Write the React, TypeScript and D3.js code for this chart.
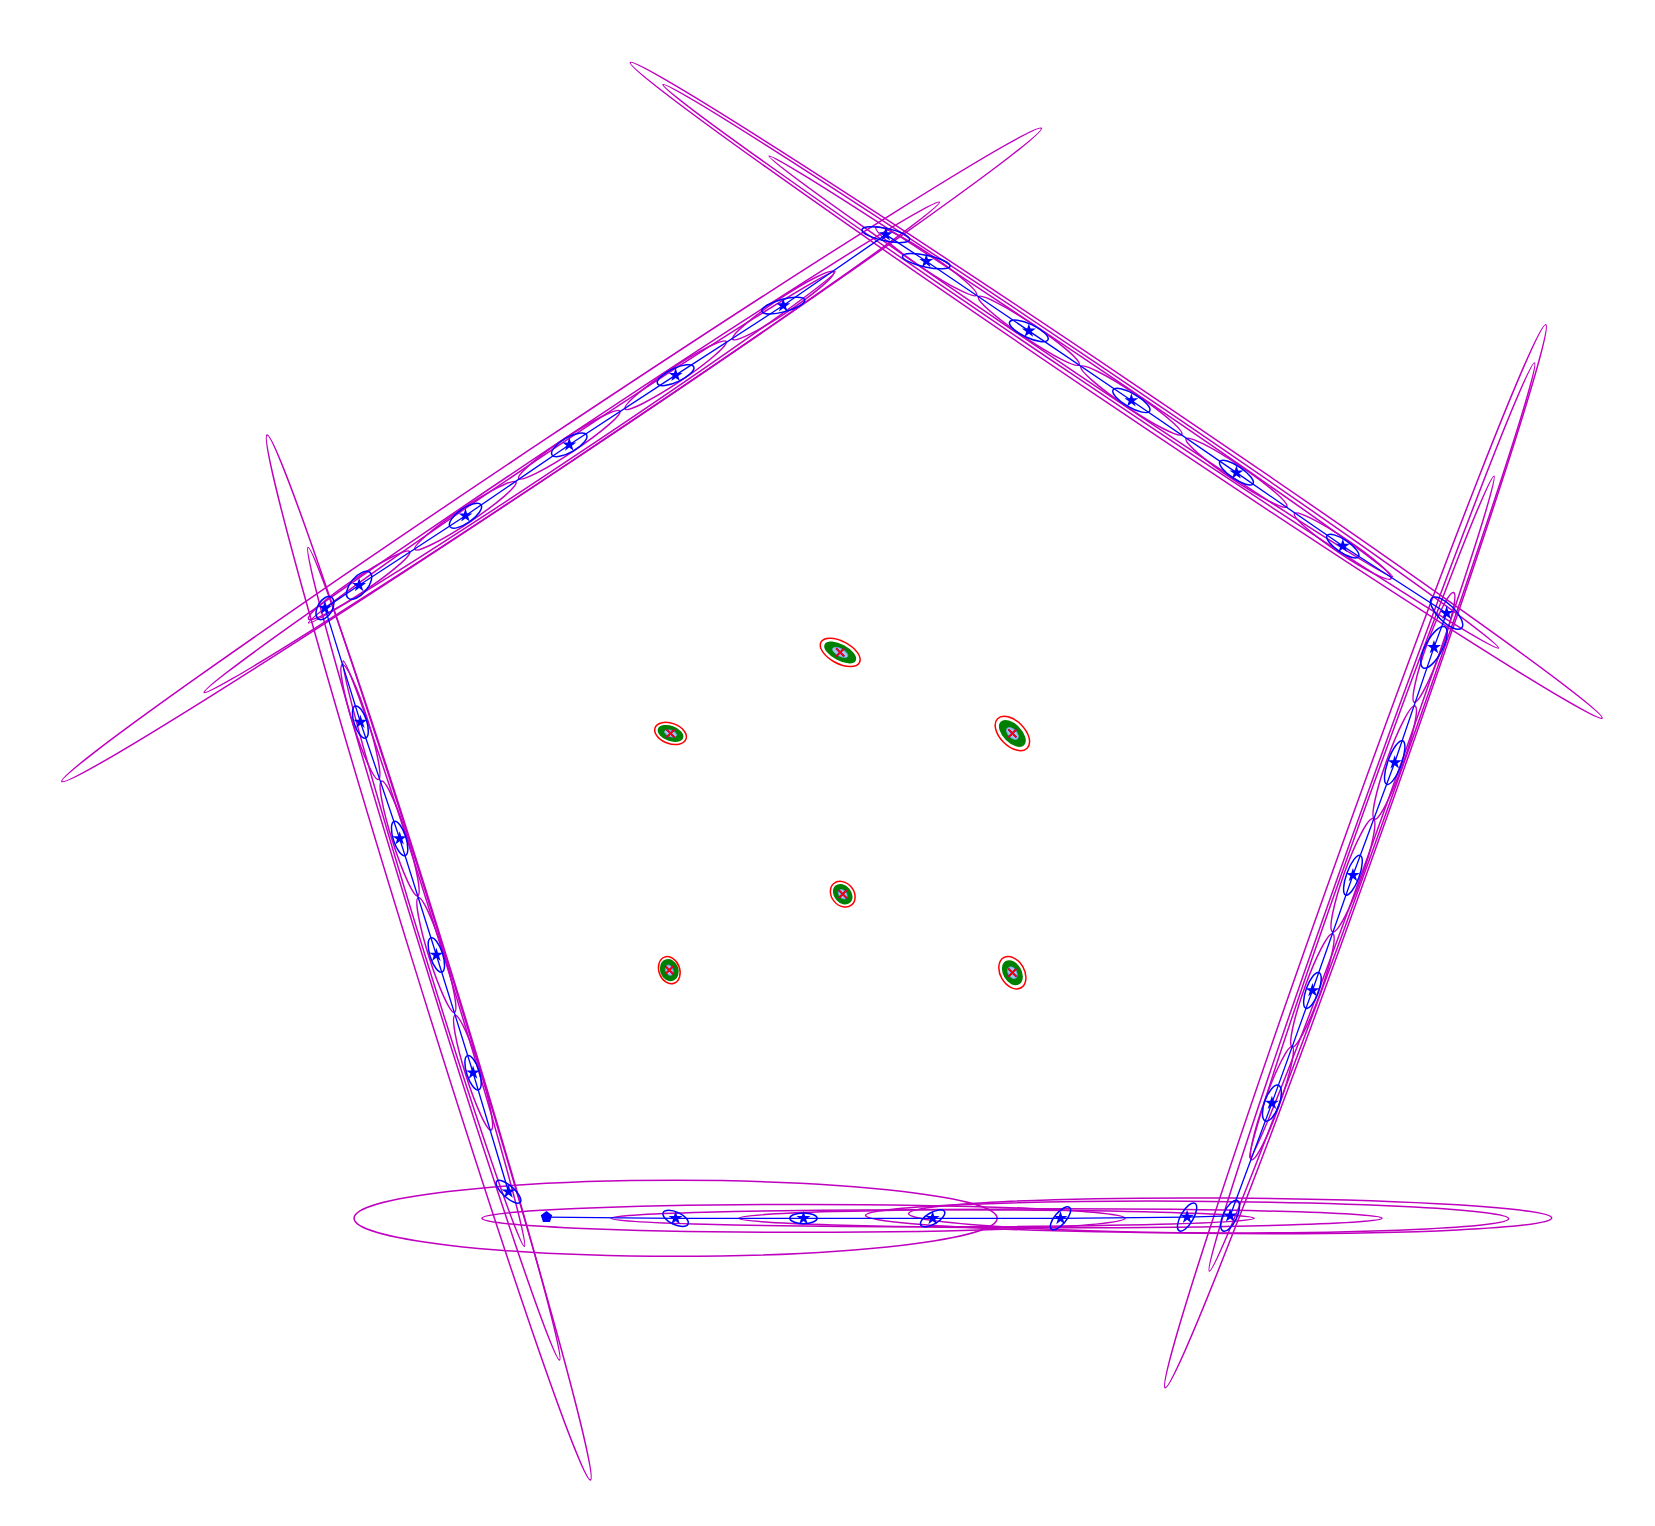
import * as d3 from "d3";

// pose estimates (world units), start at bottom-left, counter-clockwise round the pentagon
const poseX = [-2.35, -1.33, -0.32, 0.70, 1.71, 2.71, 3.05, 3.38, 3.70, 4.02, 4.35, 4.66, 4.76, 3.94, 3.10, 2.27, 1.46, 0.65, 0.33, -0.48, -1.33, -2.17, -2.99, -3.83, -4.10, -3.82, -3.51, -3.22, -2.93, -2.65];
const poseY = [-2.53, -2.54, -2.54, -2.54, -2.54, -2.53, -2.52, -1.63, -0.74, 0.17, 1.06, 1.97, 2.24, 2.77, 3.35, 3.92, 4.47, 5.02, 5.23, 4.67, 4.12, 3.57, 3.01, 2.46, 2.28, 1.38, 0.46, -0.46, -1.39, -2.33];

// blue pose covariance ellipses: semi-axes and orientation (deg)
const poseA = [0, 0.108, 0.108, 0.108, 0.112, 0.125, 0.133, 0.15, 0.15, 0.167, 0.183, 0.183, 0.167, 0.15, 0.158, 0.167, 0.167, 0.192, 0.192, 0.175, 0.158, 0.158, 0.15, 0.133, 0.1, 0.133, 0.142, 0.142, 0.142, 0.125];
const poseB = [0, 0.05, 0.042, 0.046, 0.046, 0.05, 0.054, 0.058, 0.05, 0.05, 0.054, 0.067, 0.067, 0.05, 0.05, 0.054, 0.054, 0.046, 0.05, 0.05, 0.054, 0.058, 0.058, 0.067, 0.058, 0.05, 0.05, 0.05, 0.05, 0.046];
const poseAng = [0, -25, 0, 30, 50, 60, 65, 70, 70, 70, 70, 62, -45, -34, -34, -30, -25, -12, -12, 15, 25, 30, 35, 50, 60, -72, -72, -72, -72, -42];

// magenta (odometry) covariance ellipses
const magX = [-1.33, -0.32, 0.70, 1.71, 2.71, 3.05,
  4.04, 4.17, 4.17, 3.38, 3.70, 4.02, 4.35, 4.66,
  2.15, 1.87, 1.87, 3.94, 3.10, 2.27, 1.46, 0.65,
  -2.31, -2.15, -2.15, -0.48, -1.33, -2.17, -2.99, -3.83,
  -3.28, -3.24, -3.24, -3.82, -3.51, -3.22, -2.93];
const magY = [-2.54, -2.54, -2.54, -2.54, -2.53, -2.52,
  0.32, 0.63, 0.63, -1.63, -0.74, 0.17, 1.06, 1.97,
  4.0, 4.19, 4.19, 2.77, 3.35, 3.92, 4.47, 5.02,
  3.49, 3.55, 3.55, 4.67, 4.12, 3.57, 3.01, 2.46,
  -0.48, -0.45, -0.45, 1.38, 0.46, -0.46, -1.39];
const magA = [2.54, 2.54, 2.54, 2.54, 2.54, 2.54,
  4.46, 3.81, 2.86, 0.475, 0.475, 0.475, 0.475, 0.46,
  4.63, 3.98, 2.97, 0.46, 0.48, 0.48, 0.48, 0.48,
  4.65, 3.49, 2.5, 0.48, 0.48, 0.48, 0.48, 0.48,
  4.32, 3.36, 2.42, 0.475, 0.475, 0.475, 0.475];
const magB = [0.30, 0.11, 0.067, 0.075, 0.125, 0.14,
  0.13, 0.095, 0.075, 0.06, 0.065, 0.07, 0.065, 0.06,
  0.12, 0.09, 0.065, 0.06, 0.06, 0.06, 0.06, 0.06,
  0.13, 0.09, 0.07, 0.06, 0.06, 0.06, 0.06, 0.06,
  0.13, 0.09, 0.07, 0.06, 0.06, 0.06, 0.06];
const magAng = [0, 0, 0, 0, -0.3, -0.4,
  70.3, 70.3, 70.3, 70.3, 70.3, 70.3, 70.3, 70.3,
  -34, -34, -34, -34, -34, -34, -34, -34,
  33.7, 33.7, 33.7, 33.7, 33.7, 33.7, 33.7, 33.7,
  -72.8, -72.8, -72.8, -72.5, -72.5, -72.5, -72.5];

// landmarks
const lmX = [-0.03, -1.37, 1.33, -0.01, -1.38, 1.33];
const lmY = [1.93, 1.29, 1.29, 0.02, -0.58, -0.6];
const lmRedA = [0.172, 0.13, 0.165, 0.11, 0.11, 0.137];
const lmRedB = [0.088, 0.08, 0.098, 0.088, 0.082, 0.095];
const lmGreenA = [0.133, 0.1, 0.125, 0.083, 0.083, 0.1];
const lmGreenB = [0.058, 0.054, 0.067, 0.0625, 0.067, 0.067];
const lmInnerA = [0.067, 0.05, 0.058, 0.042, 0.042, 0.05];
const lmInnerB = [0.029, 0.025, 0.033, 0.029, 0.029, 0.033];
const lmAng = [-28, -20, -45, -50, -70, -60];

const W = 1655, H = 1526;
const k = 1.055;
const x = d3.scaleLinear().domain([0, 1]).range([800 * k, 920 * k]);
const y = d3.scaleLinear().domain([0, 1]).range([850 * k, 730 * k]);
const unit = x(1) - x(0);

const MAG = "#bf00bf";
const BLUE = "#0000ff";

const star = d3.symbol(d3.symbolStar, 60)()!;
const pentagon = d3.range(5).map((i) => {
  const t = -Math.PI / 2 + (i * 2 * Math.PI) / 5;
  return [6 * Math.cos(t), 6 * Math.sin(t)];
});

const Ell = ({ cx, cy, a, b, ang, ...rest }: any) => {
  const px = x(cx), py = y(cy);
  return (
    <ellipse cx={px} cy={py} rx={a * unit} ry={b * unit}
      transform={`rotate(${-ang} ${px} ${py})`} {...rest} />
  );
};

const Cross = ({ cx, cy, color }: any) => {
  const px = x(cx), py = y(cy), s = 4;
  return (
    <path d={`M${px - s},${py - s}L${px + s},${py + s}M${px - s},${py + s}L${px + s},${py - s}`}
      stroke={color} strokeWidth={1.8} fill="none" />
  );
};

const App = () => {
  const line = d3.line<number>().x((i) => x(poseX[i])).y((i) => y(poseY[i]));
  return (
    <svg width={W} height={H} style={{ position: "absolute", left: 0, top: 0, background: "#fff" }}>
      <g>
        {magX.map((_, i) => (
          <Ell key={"m" + i} cx={magX[i]} cy={magY[i]} a={magA[i]} b={magB[i]} ang={magAng[i]}
            fill="none" stroke={MAG} strokeWidth={1.5} />
        ))}
      </g>
      <path d={line(d3.range(poseX.length)) ?? ""} fill="none" stroke={BLUE} strokeWidth={1.3} />
      <g>
        {poseX.map((_, i) => poseA[i] > 0 && (
          <Ell key={"p" + i} cx={poseX[i]} cy={poseY[i]} a={poseA[i]} b={poseB[i]} ang={poseAng[i]}
            fill="none" stroke={BLUE} strokeWidth={1.5} />
        ))}
      </g>
      <g fill={BLUE}>
        {poseX.map((_, i) => i === 0 ? (
          <polygon key={"s" + i} points={pentagon.map((p) => `${x(poseX[i]) + p[0]},${y(poseY[i]) + p[1]}`).join(" ")} />
        ) : (
          <path key={"s" + i} d={star} transform={`translate(${x(poseX[i])},${y(poseY[i])})`} />
        ))}
      </g>
      <g>
        {lmX.map((_, i) => (
          <g key={"l" + i}>
            <Ell cx={lmX[i]} cy={lmY[i]} a={lmRedA[i]} b={lmRedB[i]} ang={lmAng[i]}
              fill="none" stroke="#ff0000" strokeWidth={1.5} />
            <Ell cx={lmX[i]} cy={lmY[i]} a={lmGreenA[i]} b={lmGreenB[i]} ang={lmAng[i]}
              fill="#008000" stroke="#008000" strokeWidth={1.5} />
            <Ell cx={lmX[i]} cy={lmY[i]} a={lmInnerA[i]} b={lmInnerB[i]} ang={lmAng[i]}
              fill="#9fc6e8" stroke="#6fa0d8" strokeWidth={0.8} />
            <Cross cx={lmX[i]} cy={lmY[i]} color={BLUE} />
            <Cross cx={lmX[i]} cy={lmY[i]} color="#ff0000" />
          </g>
        ))}
      </g>
    </svg>
  );
};

export default App;
